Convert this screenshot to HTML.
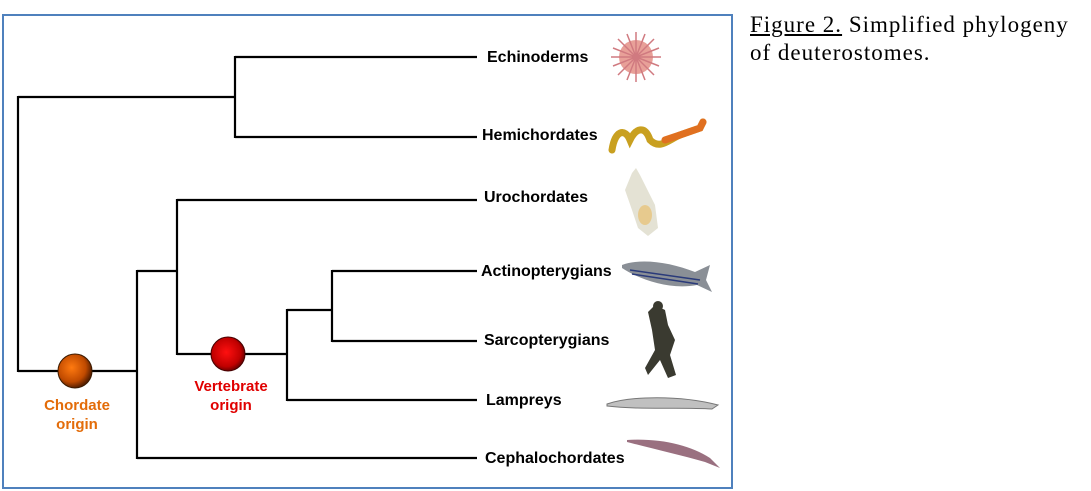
<!DOCTYPE html>
<html><head><style>
body{margin:0;background:#fff;width:1091px;height:491px;overflow:hidden;position:relative;font-family:"Liberation Sans",Arial,sans-serif}
.cap{position:absolute;left:750px;top:11px;font-family:"Liberation Serif",serif;font-size:23px;letter-spacing:1px;line-height:28px;color:#000;white-space:nowrap}
</style></head><body>
<svg width="1091" height="491" style="position:absolute;left:0;top:0">
<defs>
<radialGradient id="g1" cx="40%" cy="40%" r="60%"><stop offset="0" stop-color="#ff7a10"/><stop offset="0.7" stop-color="#c04a00"/><stop offset="1" stop-color="#5a2000"/></radialGradient>
<radialGradient id="g2" cx="45%" cy="45%" r="60%"><stop offset="0" stop-color="#ff1010"/><stop offset="0.7" stop-color="#c00000"/><stop offset="1" stop-color="#500000"/></radialGradient>
</defs>
<rect x="3" y="15" width="729" height="473" fill="none" stroke="#4f81bd" stroke-width="2"/>
<g stroke="#000" stroke-width="2.2" fill="none">
<path d="M235 57H477M235 137H477M235 56V138M18 97H235M18 96V372M18 371H137M137 270V459M137 458H477M137 271H177M177 199V355M177 200H477M177 354H287M287 309V401M287 400H477M287 310H332M332 270V342M332 271H477M332 341H477"/>
</g>
<circle cx="75" cy="371" r="17" fill="url(#g1)" stroke="#3a1a00" stroke-width="1"/>
<circle cx="228" cy="354" r="17" fill="url(#g2)" stroke="#400" stroke-width="1"/>
<g font-weight="bold" font-size="16" fill="#000">
<text x="487" y="62">Echinoderms</text>
<text x="482" y="140">Hemichordates</text>
<text x="484" y="202">Urochordates</text>
<text x="481" y="276">Actinopterygians</text>
<text x="484" y="345">Sarcopterygians</text>
<text x="486" y="405">Lampreys</text>
<text x="485" y="463">Cephalochordates</text>
</g>
<g font-weight="bold" font-size="15" text-anchor="middle">
<text x="77" y="410" fill="#e36c09">Chordate</text>
<text x="77" y="429" fill="#e36c09">origin</text>
<text x="231" y="391" fill="#e00000">Vertebrate</text>
<text x="231" y="410" fill="#e00000">origin</text>
</g>
<g stroke="#d07a80" stroke-width="1.5">
<circle cx="636" cy="57" r="17" fill="#e8a098" stroke="none"/>
<path d="M636 32V82M611 57H661M618 39L654 75M654 39L618 75M627 34L645 80M645 34L627 80M613 48L659 66M613 66L659 48"/>
</g>
<path d="M612 150C615 130 625 128 630 140C636 128 645 125 650 140C660 150 668 140 680 135L700 128L703 122" stroke="#c9a020" stroke-width="7" fill="none" stroke-linecap="round"/>
<path d="M665 140L680 135L700 128L703 122" stroke="#e07020" stroke-width="7" fill="none" stroke-linecap="round"/>
<path d="M632 173L636 168L640 175L645 185L655 205L658 228L648 236L638 228L632 210L625 190Z" fill="#e4e2d4"/>
<ellipse cx="645" cy="215" rx="7" ry="10" fill="#e8c070" opacity="0.7"/>
<path d="M622 265C640 258 670 262 695 272L710 265L706 280L712 292L697 285C670 290 640 280 622 268Z" fill="#8a8f96"/>
<path d="M630 270L700 280M632 274L698 284" stroke="#2a3a7a" stroke-width="1.5"/>
<path d="M655 305L665 310L668 325L675 340L670 355L676 375L668 378L660 360L648 375L645 368L655 350L652 330L648 312Z" fill="#3a3a30"/>
<circle cx="658" cy="306" r="5" fill="#3a3a30"/>
<path d="M607 404C630 396 680 395 718 405L712 409C680 407 640 410 607 406Z" fill="#c0c0c0" stroke="#777" stroke-width="1"/>
<path d="M627 440C660 438 690 445 710 458L720 468L705 462C680 455 650 448 627 442Z" fill="#9a7080"/>
</svg>
<div class="cap"><u>Figure 2.</u> Simplified phylogeny<br>of deuterostomes.</div>
</body></html>
